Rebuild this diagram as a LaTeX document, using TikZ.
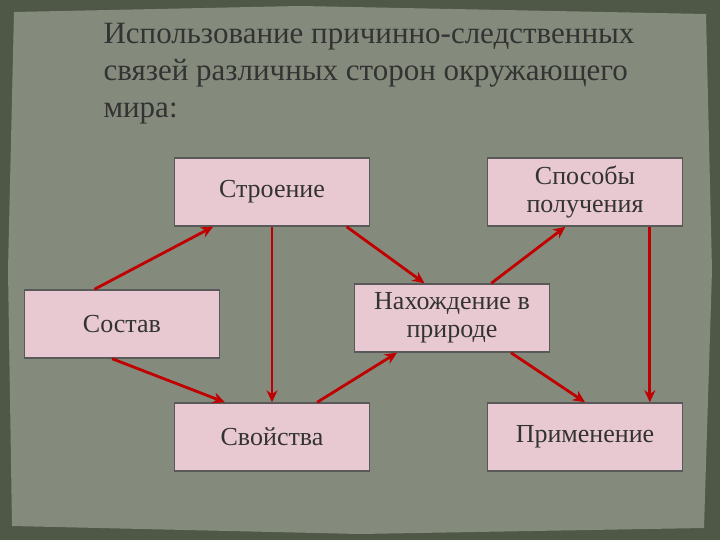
\documentclass[tikz,border=0pt]{standalone}
\usepackage{fontspec}
\setmainfont{Liberation Serif}
\usetikzlibrary{calc,arrows.meta}
\definecolor{edge}{HTML}{4F5846}
\definecolor{paper}{HTML}{858B7C}
\definecolor{boxfill}{HTML}{E9C9D1}
\definecolor{arr}{HTML}{C00000}
\tikzset{
 box/.style={draw=gray!70!black, line width=1.5pt, fill=boxfill, minimum width=195pt, minimum height=68pt, align=center, font=\fontsize{26}{28}\selectfont, text=black!80},
 link/.style={draw=arr, line width=2.8pt, -{Stealth[length=12pt,width=11pt]}}
}
\begin{document}
\begin{tikzpicture}[x=1pt,y=-1pt]
\useasboundingbox (0,0) rectangle (720,540);
\fill[edge] (0,0) rectangle (720,540);
\fill[paper] (14,12) -- (300,6) -- (706,14) -- (712,270) -- (704,528) -- (360,534) -- (12,526) -- (8,270) -- cycle;
\node[anchor=north west, align=left, text=black!80, font=\fontsize{31}{37}\selectfont] (title) at (100,20)
 {Использование причинно-следственных\\связей различных сторон окружающего\\мира:};
\node[box] (str) at (272,192) {Строение};
\node[box] (spo) at (585,192) {Способы\\получения};
\node[box] (sos) at (122,324) {Состав};
\node[box] (nah) at (452,318) {Нахождение в\\природе};
\node[box] (sv) at (272,437) {Свойства};
\node[box] (pri) at (585,437) {Применение};
\draw[link] ($(sos.north west)!0.36!(sos.north east)$) -- ($(str.south west)!0.2!(str.south east)$);
\draw[link] ($(str.south west)!0.5!(str.south east)$) -- ($(sv.north west)!0.5!(sv.north east)$);
\draw[link] ($(str.south west)!0.88!(str.south east)$) -- ($(nah.north west)!0.36!(nah.north east)$);
\draw[link] ($(nah.north west)!0.7!(nah.north east)$) -- ($(spo.south west)!0.4!(spo.south east)$);
\draw[link] ($(spo.south west)!0.83!(spo.south east)$) -- ($(pri.north west)!0.83!(pri.north east)$);
\draw[link] ($(sos.south west)!0.45!(sos.south east)$) -- ($(sv.north west)!0.26!(sv.north east)$);
\draw[link] ($(sv.north west)!0.73!(sv.north east)$) -- ($(nah.south west)!0.22!(nah.south east)$);
\draw[link] ($(nah.south west)!0.8!(nah.south east)$) -- ($(pri.north west)!0.5!(pri.north east)$);
\end{tikzpicture}
\end{document}
